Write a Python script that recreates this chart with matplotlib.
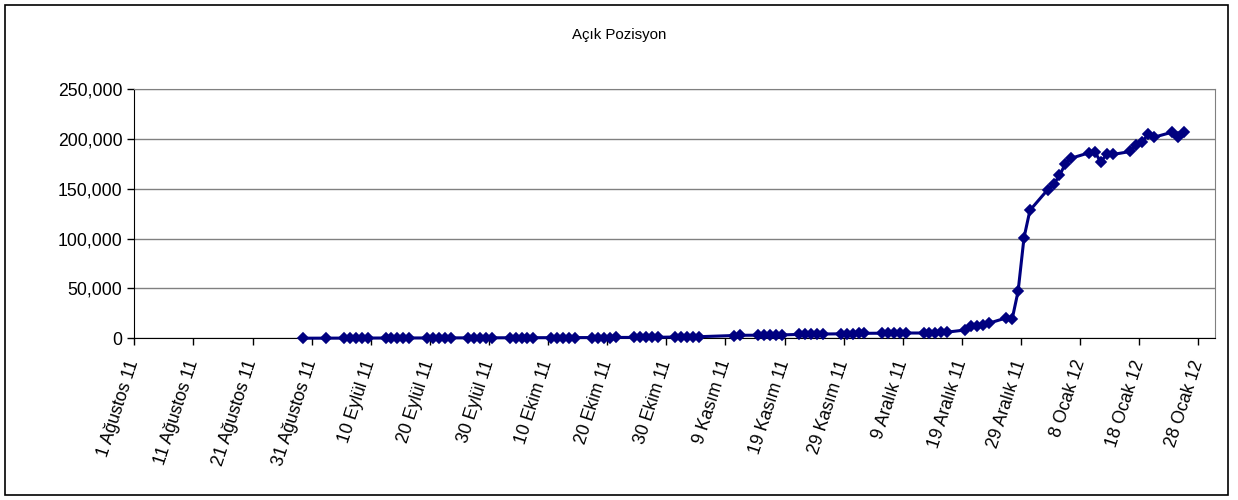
import matplotlib.pyplot as plt
import matplotlib.dates as mdates
import numpy as np
import pandas as pd
from matplotlib.patches import Rectangle
from matplotlib.ticker import FuncFormatter

plt.rcParams['font.family'] = ['Liberation Sans', 'DejaVu Sans']

# islem gunleri (hafta ici, bayramlar haric)
tarihler = [
    '2011-08-29', '2011-09-02',
    '2011-09-05', '2011-09-06', '2011-09-07', '2011-09-08', '2011-09-09',
    '2011-09-12', '2011-09-13', '2011-09-14', '2011-09-15', '2011-09-16',
    '2011-09-19', '2011-09-20', '2011-09-21', '2011-09-22', '2011-09-23',
    '2011-09-26', '2011-09-27', '2011-09-28', '2011-09-29', '2011-09-30',
    '2011-10-03', '2011-10-04', '2011-10-05', '2011-10-06', '2011-10-07',
    '2011-10-10', '2011-10-11', '2011-10-12', '2011-10-13', '2011-10-14',
    '2011-10-17', '2011-10-18', '2011-10-19', '2011-10-20', '2011-10-21',
    '2011-10-24', '2011-10-25', '2011-10-26', '2011-10-27', '2011-10-28',
    '2011-10-31', '2011-11-01', '2011-11-02', '2011-11-03', '2011-11-04',
    '2011-11-10', '2011-11-11',
    '2011-11-14', '2011-11-15', '2011-11-16', '2011-11-17', '2011-11-18',
    '2011-11-21', '2011-11-22', '2011-11-23', '2011-11-24', '2011-11-25',
    '2011-11-28', '2011-11-29', '2011-11-30', '2011-12-01', '2011-12-02',
    '2011-12-05', '2011-12-06', '2011-12-07', '2011-12-08', '2011-12-09',
    '2011-12-12', '2011-12-13', '2011-12-14', '2011-12-15', '2011-12-16',
    '2011-12-19', '2011-12-20', '2011-12-21', '2011-12-22', '2011-12-23',
    '2011-12-26', '2011-12-27', '2011-12-28', '2011-12-29', '2011-12-30',
    '2012-01-02', '2012-01-03', '2012-01-04', '2012-01-05', '2012-01-06',
    '2012-01-09', '2012-01-10', '2012-01-11', '2012-01-12', '2012-01-13',
    '2012-01-16', '2012-01-17', '2012-01-18', '2012-01-19', '2012-01-20',
    '2012-01-23', '2012-01-24', '2012-01-25',
]

acik_pozisyon = [
    100, 150,
    200, 200, 250, 250, 250,
    300, 300, 300, 350, 350,
    350, 400, 400, 400, 450,
    450, 450, 500, 500, 500,
    550, 550, 600, 600, 600,
    650, 650, 700, 700, 700,
    750, 750, 800, 800, 850,
    900, 900, 950, 1000, 1000,
    1300, 1400, 1400, 1500, 1600,
    2800, 3000,
    3100, 3200, 3300, 3300, 3400,
    3900, 4000, 4100, 4200, 4300,
    4500, 4700, 4800, 4900, 5000,
    5100, 5200, 5200, 5300, 5300,
    5300, 5400, 5600, 6400, 6200,
    8300, 12000, 12800, 13500, 15000,
    20500, 19500, 47300, 101000, 128300,
    149000, 154300, 163300, 175000, 180600,
    186000, 186600, 176600, 185000, 184300,
    187300, 194000, 196600, 205000, 201600,
    206600, 202300, 206600,
]

tick_tarihleri = [
    '2011-08-01', '2011-08-11', '2011-08-21', '2011-08-31', '2011-09-10',
    '2011-09-20', '2011-09-30', '2011-10-10', '2011-10-20', '2011-10-30',
    '2011-11-09', '2011-11-19', '2011-11-29', '2011-12-09', '2011-12-19',
    '2011-12-29', '2012-01-08', '2012-01-18', '2012-01-28',
]
tick_etiketleri = [
    '1 Ağustos 11', '11 Ağustos 11', '21 Ağustos 11', '31 Ağustos 11',
    '10 Eylül 11', '20 Eylül 11', '30 Eylül 11', '10 Ekim 11', '20 Ekim 11',
    '30 Ekim 11', '9 Kasım 11', '19 Kasım 11', '29 Kasım 11', '9 Aralık 11',
    '19 Aralık 11', '29 Aralık 11', '8 Ocak 12', '18 Ocak 12', '28 Ocak 12',
]

# her nokta gunun ortasina konur
x = mdates.date2num(pd.to_datetime(tarihler)) + 0.5
tick_x = mdates.date2num(pd.to_datetime(tick_tarihleri))

fig = plt.figure(figsize=(12.38, 5.0), dpi=100)
ax = fig.add_axes([0.1085, 0.3234, 0.8729, 0.4987])

ax.plot(x, acik_pozisyon, color='#000080', linewidth=2.2, marker='D',
        markersize=4.6, markeredgewidth=1.2, clip_on=False, zorder=3)

ax.set_xlim(tick_x[0], tick_x[0] + 182.8)
ax.set_ylim(0, 250000)
ax.set_yticks(np.arange(0, 250001, 50000))
ax.yaxis.set_major_formatter(FuncFormatter(lambda v, p: f'{v:,.0f}'))
ax.grid(axis='y', color='#808080', linewidth=1)
ax.set_axisbelow(True)

ax.spines['left'].set_color('black')
ax.spines['bottom'].set_color('black')
ax.spines['top'].set_color('#808080')
ax.spines['right'].set_color('#808080')

ax.set_xticks(tick_x)
ax.set_xticklabels(tick_etiketleri, rotation=72, ha='right', va='center',
                   rotation_mode='anchor')
ax.tick_params(direction='out', length=5, width=1, labelsize=12.7, colors='black')
ax.tick_params(axis='x', pad=11)

fig.text(0.5, 1 - 35 / 500, 'Açık Pozisyon', ha='center', va='center', fontsize=10.8)

fig.patches.append(Rectangle((5 / 1238, 5 / 500), 1223 / 1238, 490 / 500,
                             transform=fig.transFigure, fill=False,
                             edgecolor='black', linewidth=1.2))

fig.savefig('out.png', dpi=100)
